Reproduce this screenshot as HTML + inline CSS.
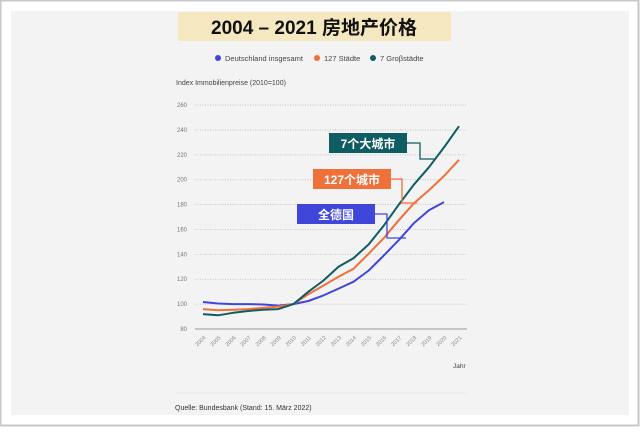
<!DOCTYPE html>
<html><head><meta charset="utf-8"><style>
html,body{margin:0;padding:0;background:#fff;}
body{width:640px;height:427px;overflow:hidden;}
</style></head><body>
<svg id="s" width="640" height="427" xmlns="http://www.w3.org/2000/svg" font-family="Liberation Sans, sans-serif">
<rect x="0.5" y="0.5" width="638" height="425" fill="#fff" stroke="#c8c8c8" stroke-width="2"/>
<rect x="11" y="11" width="618" height="404" fill="#f3f3f3"/>
<rect x="178" y="12" width="273" height="29" fill="#f5e8c0"/>
<text x="314" y="34" text-anchor="middle" font-size="19" font-weight="bold" fill="#111" font-family="Liberation Sans, Noto Sans CJK SC, sans-serif">2004 – 2021 房地产价格</text>
<circle cx="218" cy="58" r="3" fill="#4047d8"/><text x="225" y="61" font-size="7.5" fill="#444">Deutschland insgesamt</text>
<circle cx="317" cy="58" r="3" fill="#f0703a"/><text x="324" y="61" font-size="7.5" fill="#444">127 Städte</text>
<circle cx="373" cy="58" r="3" fill="#0f5c62"/><text x="380" y="61" font-size="7.5" fill="#444">7 Groβstädte</text>
<text x="176" y="85" font-size="7" fill="#444">Index Immobilienpreise (2010=100)</text>
<g id="grid"></g>
<line x1="195" y1="329" x2="467" y2="329" stroke="#999" stroke-width="1"/>
<g id="series"></g>
<text x="453" y="368" font-size="6.5" fill="#444">Jahr</text>
<line x1="175" y1="393" x2="466" y2="393" stroke="#e8e8e8"/>
<text x="175" y="410" font-size="7" fill="#333">Quelle: Bundesbank (Stand: 15. März 2022)</text>
<g font-family="Liberation Sans, Noto Sans CJK SC, sans-serif" font-size="12" font-weight="bold" fill="#fff" text-anchor="middle">
<polyline points="407,143 420,143 420,159 434,159" fill="none" stroke="#0f5c62" stroke-width="1.3"/>
<rect x="329" y="133" width="78" height="20" fill="#0f5c62"/><text x="368" y="148">7个大城市</text>
<polyline points="391,179 402,179 402,203 417,203" fill="none" stroke="#f0703a" stroke-width="1.3"/>
<rect x="313" y="169" width="78" height="20" fill="#f0703a"/><text x="352" y="184">127个城市</text>
<polyline points="375,214 387,214 387,238 406,238" fill="none" stroke="#4047d8" stroke-width="1.3"/>
<rect x="297" y="204" width="78" height="20" fill="#4047d8"/><text x="336" y="219">全德国</text>
</g>
</svg>
<script>
function Y(v){return 329-(v-80)*1.244;}
function X(i){return 203+i*15.06;}
var g=document.getElementById('grid'),h='';
for(var v=80;v<=260;v+=20){var y=Y(v);
 if(v>80)h+='<line x1="195" y1="'+y+'" x2="467" y2="'+y+'" stroke="#bbb" stroke-width="0.8" stroke-dasharray="1,1.5"/>';
 h+='<text x="187" y="'+(y+2)+'" text-anchor="end" font-size="6" fill="#777">'+v+'</text>';}
for(var i=0;i<18;i++){var x=X(i);
 h+='<text transform="translate('+(x+3)+',338) rotate(-45)" text-anchor="end" font-size="5.5" fill="#888">'+(2004+i)+'</text>';}
g.innerHTML=h;
var teal=[92,91,93,94.5,95.5,96,100,110,119,130,137,148,163,180,196,210,226,243];
var ora=[96,95,95.5,96,97,98,100,108,115,122,128.5,140.5,153,167.5,181,191.5,203,216];
var blu=[101.7,100.5,100,100,99.7,98.8,100,102.5,107,112.5,118,127,139,151.5,165,175.5,182];
function pl(d,c){var p=d.map(function(v,i){return X(i).toFixed(1)+','+Y(v).toFixed(1)}).join(' ');
 return '<polyline points="'+p+'" fill="none" stroke="'+c+'" stroke-width="2" stroke-linejoin="round"/>';}
document.getElementById('series').innerHTML=pl(blu,'#4047d8')+pl(ora,'#f0703a')+pl(teal,'#0f5c62');
</script>
</body></html>
